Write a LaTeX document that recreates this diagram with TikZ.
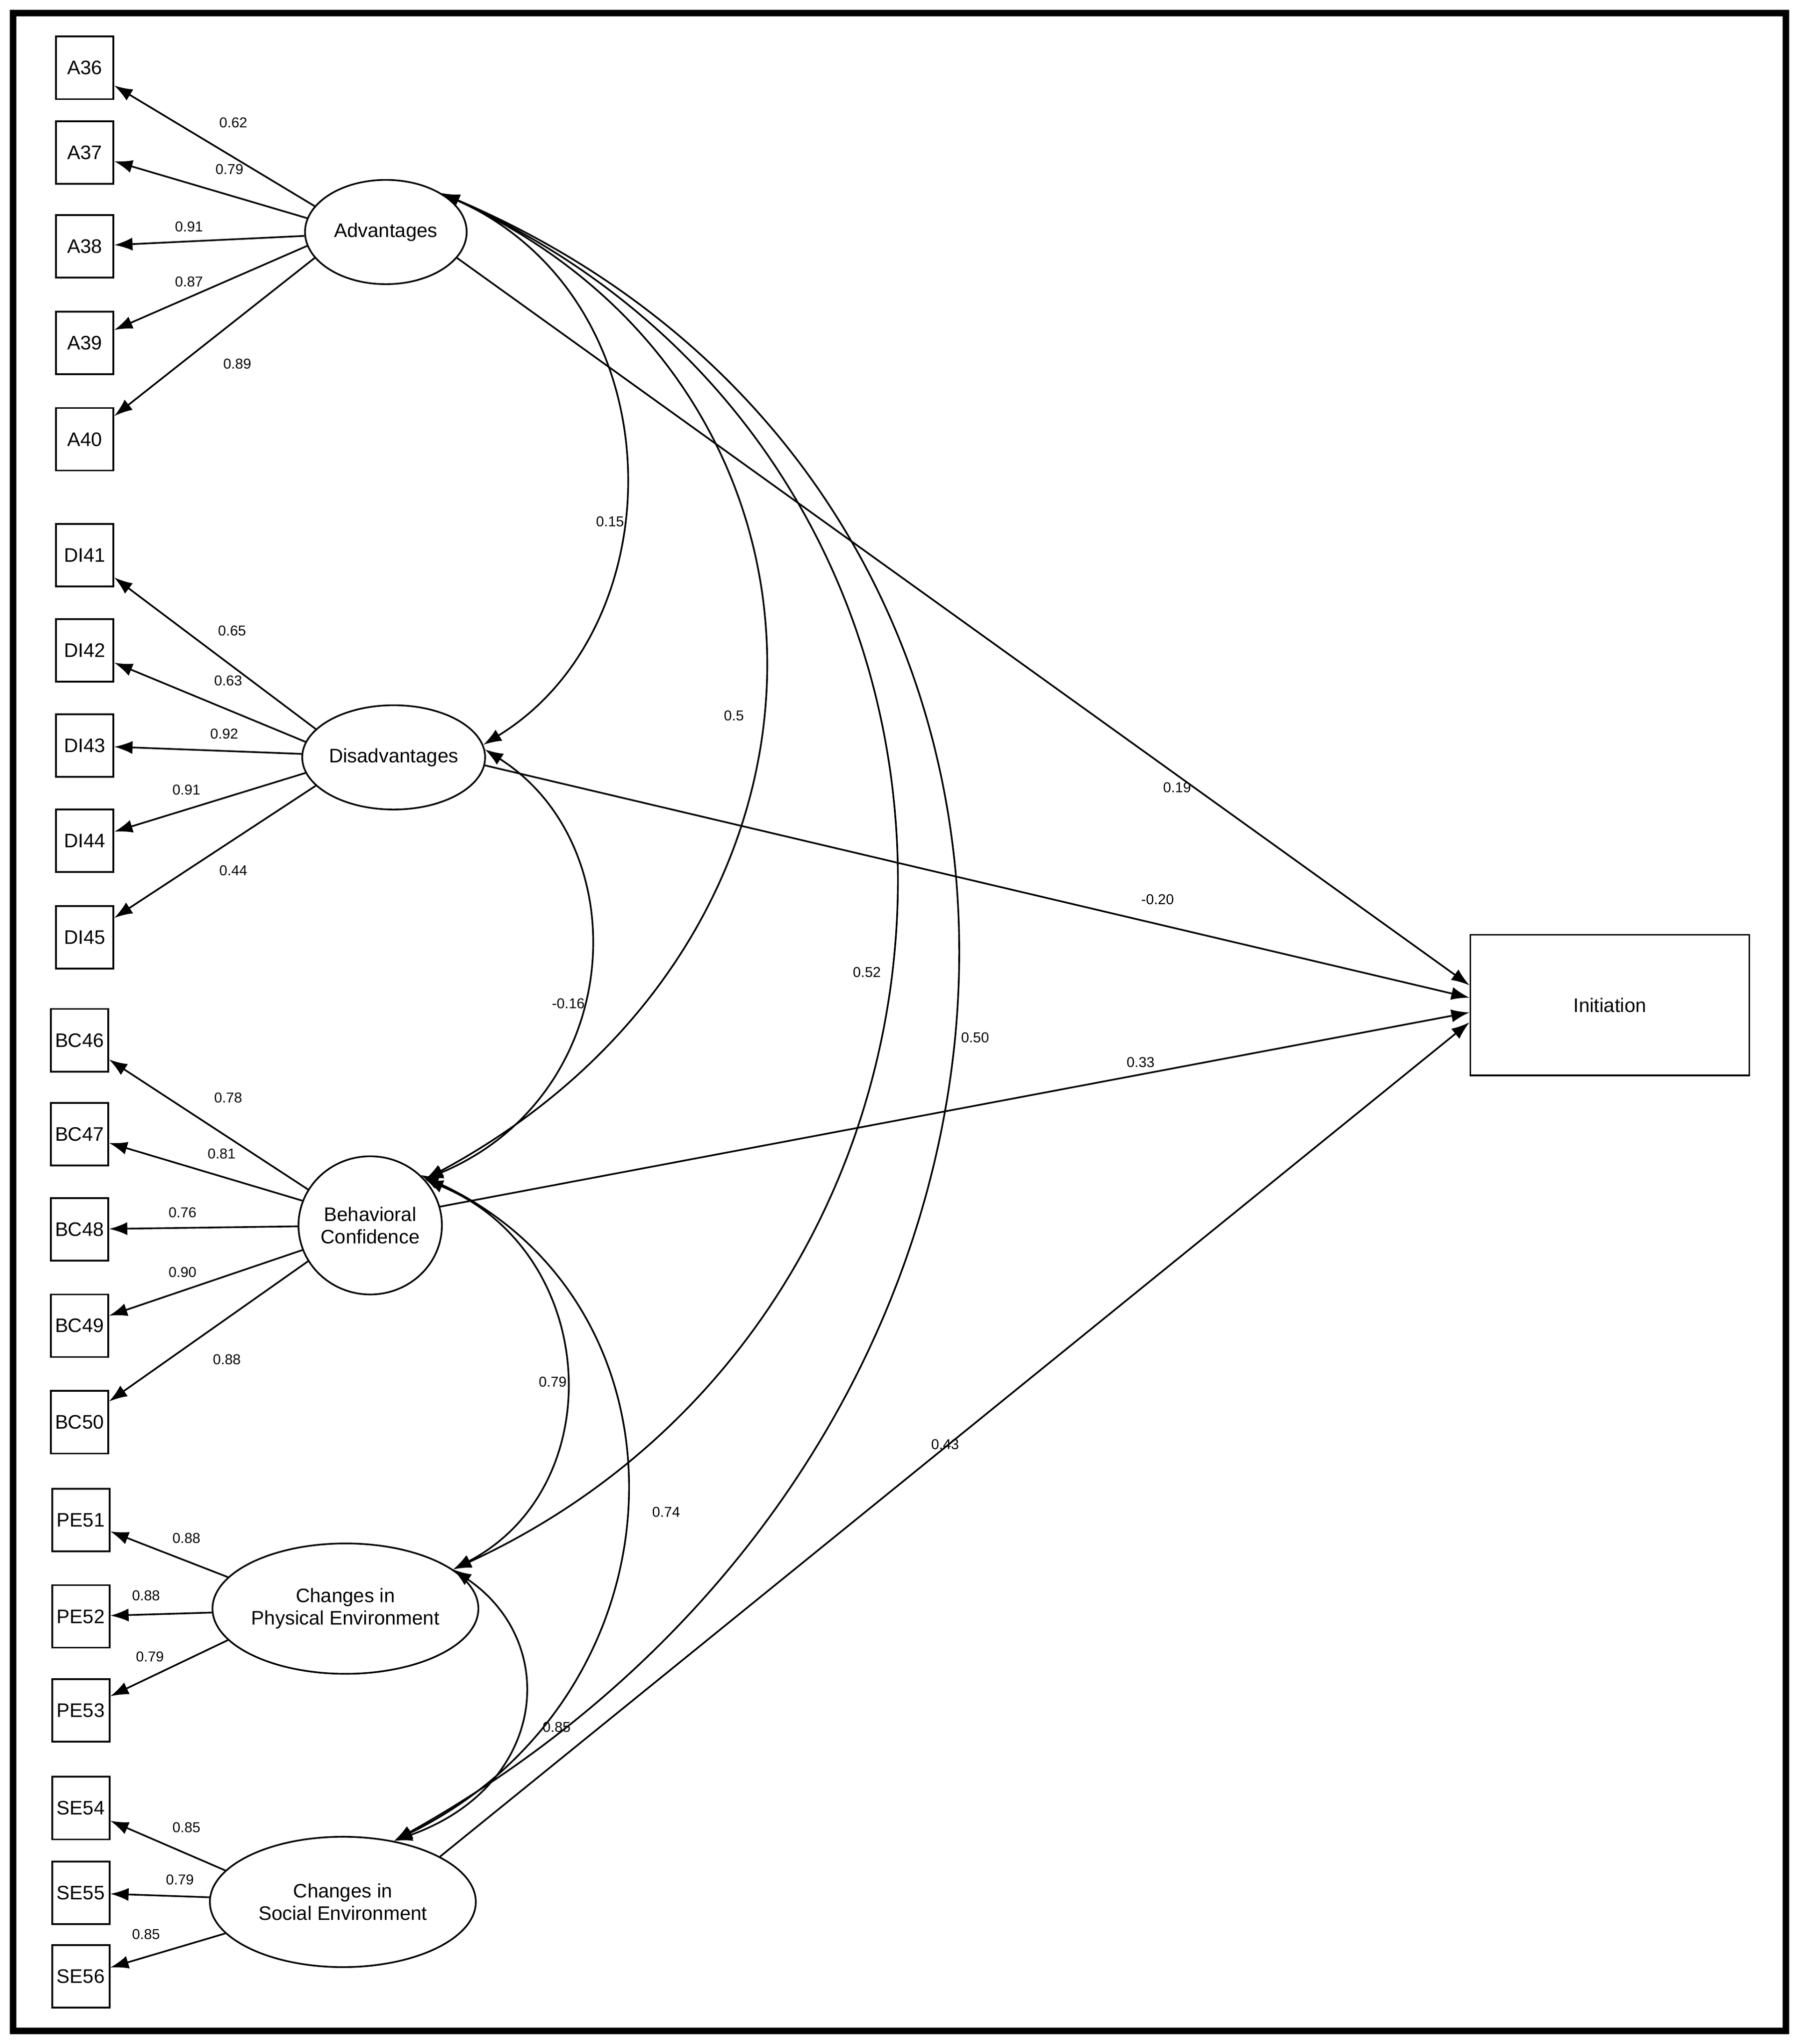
\documentclass[tikz,border=0pt]{standalone}
\usepackage{fontspec}
\setmainfont{Liberation Sans}
\usetikzlibrary{arrows.meta,shapes.geometric}
\begin{document}
\begin{tikzpicture}[x=1pt,y=-1pt,
  box/.style={draw,line width=1.3pt,minimum width=44pt,minimum height=48pt,inner sep=0pt,font=\fontsize{15}{17}\selectfont},
  lat/.style={draw,ellipse,line width=1.3pt,inner sep=0pt,align=center,font=\fontsize{15}{17}\selectfont},
  ar/.style={-{Latex[length=14pt,width=10pt]},line width=1.3pt},
  cov/.style={{Latex[length=14pt,width=10pt]}-{Latex[length=14pt,width=10pt]},line width=1.3pt},
  lb/.style={font=\fontsize{11}{13}\selectfont,inner sep=1pt}]
\useasboundingbox (0,0) rectangle (1380,1568);
\draw[line width=5pt] (10,10) rectangle (1370,1558);
% latent
\node[lat,minimum width=124pt,minimum height=80pt] (adv) at (296,178) {Advantages};
\node[lat,minimum width=140pt,minimum height=80pt] (dis) at (302,581) {Disadvantages};
\node[lat,minimum width=110pt,minimum height=106pt] (bc) at (284,940) {Behavioral\\Confidence};
\node[lat,minimum width=194pt,minimum height=100pt] (pe) at (265,1234) {Changes in\\Physical Environment};
\node[lat,minimum width=204pt,minimum height=100pt] (se) at (263,1459) {Changes in\\Social Environment};
\node[draw,line width=1.3pt,minimum width=214pt,minimum height=108pt,font=\fontsize{15}{17}\selectfont] (init) at (1235,771) {Initiation};
% boxes
\foreach \n/\y in {A36/52,A37/117,A38/189,A39/263,A40/337}{\node[box] (\n) at (65,\y) {\n};}
\foreach \n/\y in {DI41/426,DI42/499,DI43/572,DI44/645,DI45/719}{\node[box] (\n) at (65,\y) {\n};}
\foreach \n/\y in {BC46/798,BC47/870,BC48/943,BC49/1017,BC50/1091}{\node[box] (\n) at (61,\y) {\n};}
\foreach \n/\y in {PE51/1166,PE52/1240,PE53/1312}{\node[box] (\n) at (62,\y) {\n};}
\foreach \n/\y in {SE54/1387,SE55/1452,SE56/1516}{\node[box] (\n) at (62,\y) {\n};}
% loadings
\draw[ar] (adv.160) -- (A36);
\draw[ar] (adv.170) -- (A37);
\draw[ar] (adv) -- (A38);
\draw[ar] (adv.190) -- (A39);
\draw[ar] (adv.200) -- (A40);
\draw[ar] (dis.160) -- (DI41);
\draw[ar] (dis.170) -- (DI42);
\draw[ar] (dis) -- (DI43);
\draw[ar] (dis.190) -- (DI44);
\draw[ar] (dis.200) -- (DI45);
\draw[ar] (bc.150) -- (BC46);
\draw[ar] (bc.160) -- (BC47);
\draw[ar] (bc) -- (BC48);
\draw[ar] (bc.200) -- (BC49);
\draw[ar] (bc.210) -- (BC50);
\draw[ar] (pe.165) -- (PE51);
\draw[ar] (pe) -- (PE52);
\draw[ar] (pe.195) -- (PE53);
\draw[ar] (se.165) -- (SE54);
\draw[ar] (se) -- (SE55);
\draw[ar] (se.195) -- (SE56);
\foreach \t/\x/\y in {0.62/179/94,0.79/176/130,0.91/145/174,0.87/145/216,0.89/182/279,
  0.65/178/484,0.63/175/522,0.92/172/563,0.91/143/606,0.44/179/668,
  0.78/175/842,0.81/170/885,0.76/140/930,0.90/140/976,0.88/174/1043,
  0.88/143/1180,0.88/112/1224,0.79/115/1271,0.85/143/1402,0.79/138/1442,0.85/112/1484}
  {\node[lb] at (\x,\y) {\t};}
% paths to initiation
\draw[ar] (adv.-20) -- (init.172);
\draw[ar] (dis.-5) -- (init.177);
\draw[ar] (bc.15) -- (init.183);
\draw[ar] (se.25) -- (init.187);
\node[lb] at (903,604) {0.19};
\node[lb] at (888,690) {-0.20};
\node[lb] at (875,815) {0.33};
\node[lb] at (725,1108) {0.43};
% covariances
\draw[cov] (adv.35) .. controls (520,230) and (520,480) .. (dis.8);
\draw[cov] (adv.35) .. controls (670,300) and (670,720) .. (bc.40);
\draw[cov] (adv.35) .. controls (810,360) and (790,1000) .. (pe.20);
\draw[cov] (adv.35) .. controls (880,380) and (860,1100) .. (se.50);
\draw[cov] (dis.5) .. controls (490,650) and (480,840) .. (bc.40);
\draw[cov] (bc.40) .. controls (460,960) and (470,1140) .. (pe.20);
\draw[cov] (bc.45) .. controls (540,1000) and (530,1300) .. (se.50);
\draw[cov] (pe.20) .. controls (430,1260) and (420,1370) .. (se.50);
\node[lb] at (468,400) {0.15};
\node[lb] at (563,549) {0.5};
\node[lb] at (665,746) {0.52};
\node[lb] at (748,796) {0.50};
\node[lb] at (436,770) {-0.16};
\node[lb] at (424,1060) {0.79};
\node[lb] at (511,1160) {0.74};
\node[lb] at (427,1325) {0.85};
\end{tikzpicture}
\end{document}
